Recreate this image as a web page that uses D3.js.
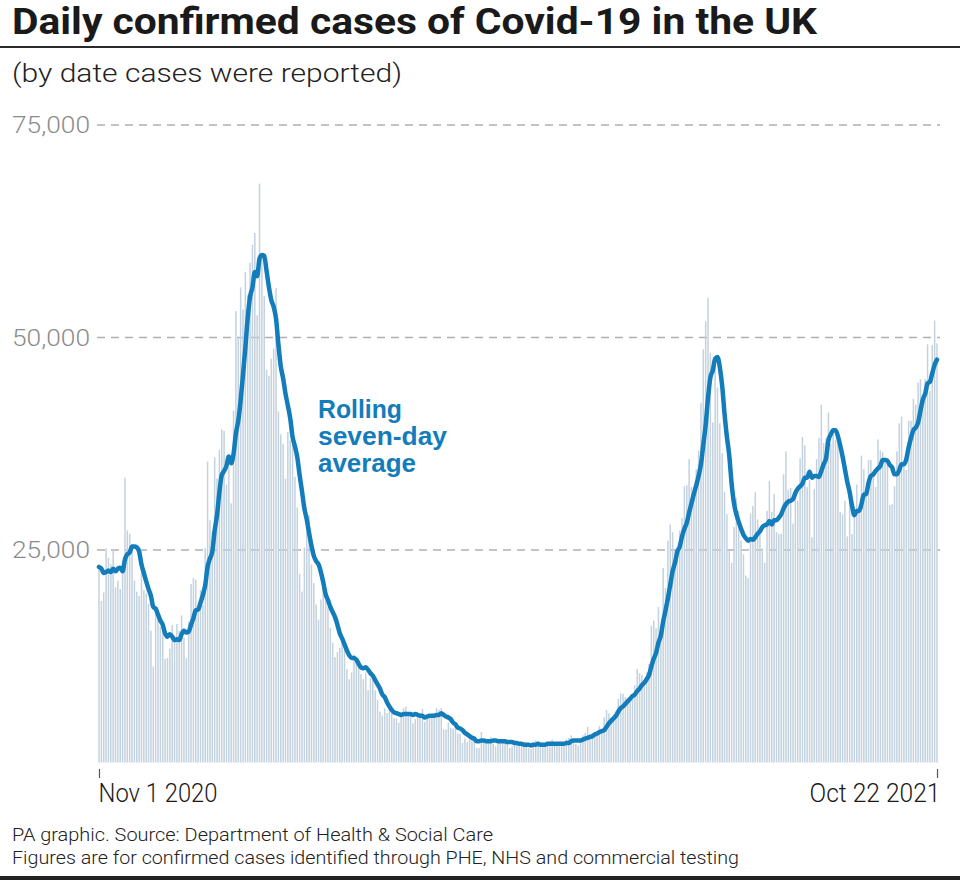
<!DOCTYPE html>
<html>
<head>
<meta charset="utf-8">
<script src="https://cdn.jsdelivr.net/npm/d3@7"></script>
<style>
  body { margin: 0; background: #fff; }
  svg { display: block; }
</style>
</head>
<body>
<div id="chart"></div>
<script>
// daily cases, thousands, Nov 1 2020 -> Oct 22 2021 (one value per day)
const dailyCases = [
  // Nov
  23.3, 19.0, 20.0, 25.2, 24.1, 23.3, 25.0, 20.6, 21.4, 20.4, 23.0, 33.5, 27.3, 26.9, 25.0, 21.4, 20.1, 19.6, 22.9, 20.3,
  19.9, 18.7, 15.5, 11.3, 18.2, 17.6, 16.0, 15.9, 12.2, 12.3,
  // Dec
  13.4, 16.2, 14.9, 16.3, 15.5, 17.3, 14.7, 12.3, 16.6, 21.0, 21.7, 21.5, 18.4, 20.3, 18.5, 25.2, 35.4, 28.5, 27.1, 35.9,
  33.4, 36.8, 39.2, 39.0, 32.7, 34.7, 30.5, 41.4, 53.1, 50.0, 55.9,
  // Jan
  53.3, 57.7, 55.0, 58.8, 60.9, 62.3, 52.6, 68.1, 59.9, 54.9, 46.2, 45.5, 47.5, 48.7, 55.8, 41.3, 38.6, 37.5, 33.4, 38.9,
  37.9, 40.3, 33.6, 30.0, 22.2, 20.1, 25.3, 28.7, 29.1, 23.3, 21.1,
  // Feb
  18.6, 16.8, 19.2, 20.6, 19.1, 18.3, 15.8, 14.1, 12.4, 13.0, 13.5, 15.1, 13.3, 11.0, 9.8, 10.6, 12.7, 12.1, 12.0, 10.4,
  9.8, 10.6, 8.5, 9.9, 10.0, 8.5, 7.4, 6.0,
  // Mar
  5.5, 6.4, 5.8, 6.6, 6.0, 5.2, 5.2, 4.7, 5.8, 6.4, 6.6, 5.9, 5.5, 4.6, 5.1, 5.3, 5.8, 6.3, 4.8, 5.6,
  5.3, 5.3, 5.4, 6.4, 6.2, 6.4, 3.9, 3.9, 4.7, 4.1, 4.0,
  // Apr
  4.5, 3.4, 3.4, 2.3, 2.8, 2.4, 2.8, 3.2, 2.6, 1.7, 1.7, 3.6, 2.5, 2.5, 2.7, 3.0, 2.2, 1.9, 2.5, 2.4,
  2.7, 2.7, 2.7, 1.7, 1.9, 2.1, 2.2, 2.1, 2.4, 2.4,
  // May
  1.9, 1.7, 1.6, 2.4, 2.6, 2.5, 2.0, 1.8, 1.9, 2.4, 2.3, 2.7, 2.2, 2.2, 1.9, 2.0, 2.4, 2.7, 2.9, 3.2,
  2.8, 2.2, 2.0, 2.5, 3.2, 3.5, 4.2, 3.4, 3.2, 3.2, 3.4,
  // Jun
  4.3, 4.0, 5.3, 6.2, 5.8, 5.3, 5.7, 6.0, 7.5, 8.1, 8.1, 7.7, 7.5, 7.7, 7.7, 9.1, 11.0, 10.5, 10.3, 9.3,
  10.6, 11.6, 16.1, 16.7, 15.8, 18.3, 14.9, 22.9, 20.5, 26.1,
  // Jul
  28.0, 27.1, 24.9, 24.2, 27.3, 28.8, 32.5, 32.6, 35.7, 32.4, 31.8, 34.5, 36.7, 42.3, 48.6, 51.9, 54.7, 48.2, 40.0, 46.6,
  44.1, 39.9, 36.4, 31.8, 29.2, 25.0, 23.5, 27.7, 31.1, 29.6, 26.1,
  // Aug
  24.5, 22.0, 21.7, 29.3, 30.2, 31.8, 28.6, 26.8, 25.2, 23.5, 29.6, 33.1, 29.5, 31.6, 27.1, 26.9, 26.9, 33.9, 36.6, 32.1,
  32.3, 28.1, 31.9, 30.8, 35.8, 38.3, 37.3, 32.4, 33.2, 26.5, 32.2,
  // Sep
  35.7, 38.2, 42.1, 37.6, 38.2, 41.2, 37.5, 39.0, 38.0, 37.6, 29.5, 29.2, 30.8, 26.6, 30.6, 26.9, 30.1, 32.7, 29.6, 36.1,
  34.5, 31.6, 35.6, 35.6, 34.2, 32.4, 38.0, 36.7, 36.5, 35.6,
  // Oct
  35.1, 30.3, 30.4, 32.5, 36.6, 39.9, 40.7, 35.4, 34.4, 40.2, 40.2, 42.8, 42.1, 44.7, 45.1, 43.4, 45.1, 49.2, 43.7, 49.1,
  52.0, 49.3
];

// rolling seven-day average, thousands, same days
const rollingAvg = [
  // Nov
  23.0, 22.8, 22.3, 22.4, 22.6, 22.4, 22.8, 22.5, 22.8, 22.9, 22.5, 23.9, 24.5, 24.7, 25.4, 25.4, 25.3, 24.8, 23.3, 22.3,
  21.3, 20.4, 19.6, 18.3, 18.1, 17.4, 16.7, 16.2, 15.2, 14.8,
  // Dec
  15.1, 14.8, 14.4, 14.5, 14.4, 15.1, 15.5, 15.3, 15.4, 16.2, 17.0, 17.9, 18.0, 18.8, 19.7, 20.9, 23.0, 24.0, 24.8, 27.3,
  29.1, 31.8, 33.8, 34.3, 34.9, 36.0, 35.2, 36.3, 38.7, 40.2, 42.6,
  // Jan
  45.6, 48.8, 52.3, 54.8, 55.9, 57.7, 57.2, 59.3, 59.7, 59.6, 57.8, 55.9, 54.4, 53.6, 52.2, 49.2, 46.6, 45.2, 43.4, 42.0,
  40.5, 38.3, 37.2, 35.9, 33.8, 31.9, 29.9, 28.6, 27.0, 25.5, 24.3,
  // Feb
  23.7, 23.3, 22.4, 21.2, 19.8, 19.1, 18.3, 17.7, 17.1, 16.2, 15.2, 14.6, 13.9, 13.2, 12.6, 12.3, 12.3, 12.1, 11.6, 11.2,
  11.1, 11.2, 10.9, 10.5, 10.2, 9.7, 9.2, 8.7,
  // Mar
  8.0, 7.7, 7.1, 6.6, 6.2, 5.9, 5.8, 5.7, 5.6, 5.7, 5.7, 5.7, 5.7, 5.6, 5.7, 5.6, 5.5, 5.5, 5.3, 5.4,
  5.5, 5.5, 5.5, 5.6, 5.6, 5.8, 5.6, 5.4, 5.3, 5.1, 4.7,
  // Apr
  4.5, 4.1, 4.0, 3.8, 3.5, 3.3, 3.1, 2.9, 2.8, 2.5, 2.5, 2.6, 2.6, 2.5, 2.5, 2.5, 2.6, 2.6, 2.5, 2.5,
  2.5, 2.5, 2.4, 2.4, 2.4, 2.3, 2.3, 2.2, 2.2, 2.1,
  // May
  2.1, 2.1, 2.0, 2.1, 2.1, 2.2, 2.1, 2.1, 2.1, 2.2, 2.2, 2.2, 2.2, 2.2, 2.2, 2.2, 2.2, 2.3, 2.3, 2.5,
  2.6, 2.6, 2.6, 2.6, 2.7, 2.8, 2.9, 3.0, 3.1, 3.3, 3.4,
  // Jun
  3.6, 3.7, 3.8, 4.2, 4.6, 4.9, 5.2, 5.5, 6.0, 6.4, 6.6, 6.9, 7.2, 7.5, 7.8, 8.0, 8.4, 8.7, 9.1, 9.4,
  9.8, 10.3, 11.3, 12.2, 12.9, 14.1, 14.9, 16.6, 17.9, 19.3,
  // Jul
  20.9, 22.5, 23.5, 24.8, 25.4, 26.6, 27.5, 28.2, 29.4, 30.5, 31.6, 32.6, 33.7, 35.1, 37.4, 39.7, 42.9, 45.3, 46.1, 47.5,
  47.7, 46.5, 44.3, 41.0, 38.3, 36.1, 32.8, 30.5, 29.2, 28.3, 27.5,
  // Aug
  26.8, 26.4, 26.1, 26.3, 26.2, 26.5, 26.9, 27.2, 27.7, 27.9, 28.0, 28.4, 28.0, 28.5, 28.5, 28.8, 29.2, 29.9, 30.4, 30.7,
  30.8, 31.0, 31.7, 32.2, 32.5, 32.8, 33.5, 33.5, 34.2, 33.5, 33.7,
  // Sep
  33.7, 33.6, 34.3, 35.1, 35.8, 37.9, 38.6, 39.1, 39.1, 38.4, 37.3, 36.0, 34.5, 33.0, 31.8, 30.2, 29.1, 29.6, 29.6, 30.4,
  31.5, 31.6, 32.9, 33.7, 33.9, 34.3, 34.6, 34.9, 35.6, 35.6,
  // Oct
  35.5, 35.0, 34.7, 33.9, 33.9, 34.4, 35.1, 35.1, 35.7, 37.1, 38.2, 39.1, 39.4, 40.0, 41.4, 42.7, 43.4, 44.6, 44.8, 45.8,
  46.8, 47.4
];

const startDate = new Date(2020, 10, 1);
const endDate = new Date(2021, 9, 22);
const yTicks = [25, 50, 75];
const yTickLabels = ["25,000", "50,000", "75,000"];
const xTickLabels = ["Nov 1 2020", "Oct 22 2021"];
const noteLines = ["Rolling", "seven-day", "average"];

const W = 960, H = 880;
const plot = { left: 99, right: 937, top: 125, bottom: 762.5 };
const sans = "Roboto, 'Liberation Sans', sans-serif";

const svg = d3.select("#chart").append("svg")
    .attr("width", W)
    .attr("height", H);

const days = dailyCases.map((v, i) => ({
    date: d3.timeDay.offset(startDate, i),
    cases: v,
    avg: rollingAvg[i]
}));

const x = d3.scaleTime()
    .domain([startDate, endDate])
    .range([plot.left, plot.right]);

const y = d3.scaleLinear()
    .domain([0, 75])
    .range([plot.bottom, plot.top]);

// title + rule
svg.append("text")
    .attr("x", 12).attr("y", 34)
    .attr("textLength", 805).attr("lengthAdjust", "spacingAndGlyphs")
    .style("font-family", sans)
    .style("font-weight", 700).style("font-size", "36px")
    .style("fill", "#1a1a1a")
    .text("Daily confirmed cases of Covid-19 in the UK");

svg.append("rect")
    .attr("x", 0).attr("y", 46).attr("width", W).attr("height", 2)
    .attr("fill", "#2a2a2a");

svg.append("text")
    .attr("x", 12).attr("y", 82)
    .attr("textLength", 390).attr("lengthAdjust", "spacingAndGlyphs")
    .style("font-family", sans)
    .style("font-weight", 300).style("font-size", "26px")
    .style("fill", "#222")
    .text("(by date cases were reported)");

// gridlines
svg.append("g")
    .selectAll("line")
    .data(yTicks)
    .join("line")
    .attr("x1", 97).attr("x2", 940)
    .attr("y1", d => y(d)).attr("y2", d => y(d))
    .attr("stroke", "#b0b0b0")
    .attr("stroke-width", 1.5)
    .attr("stroke-dasharray", "8,6");

svg.append("g")
    .selectAll("text")
    .data(yTicks)
    .join("text")
    .attr("x", 90)
    .attr("y", d => y(d) + 8)
    .attr("text-anchor", "end")
    .attr("textLength", 78).attr("lengthAdjust", "spacingAndGlyphs")
    .style("font-family", sans)
    .style("font-weight", 300).style("font-size", "23px")
    .style("fill", "#8c8c8c")
    .text((d, i) => yTickLabels[i]);

// daily bars
svg.append("g")
    .selectAll("rect")
    .data(days)
    .join("rect")
    .attr("x", d => x(d.date) - 0.75)
    .attr("width", 1.5)
    .attr("y", d => y(d.cases))
    .attr("height", d => y(0) - y(d.cases))
    .attr("fill", "#c3d2de");

// rolling average line
const line = d3.line()
    .x(d => x(d.date))
    .y(d => y(d.avg))
    .curve(d3.curveMonotoneX);

svg.append("path")
    .datum(days)
    .attr("d", line)
    .attr("fill", "none")
    .attr("stroke", "#137cba")
    .attr("stroke-width", 4.5)
    .attr("stroke-linejoin", "round")
    .attr("stroke-linecap", "round");

// annotation
svg.append("g")
    .selectAll("text")
    .data(noteLines)
    .join("text")
    .attr("x", 318)
    .attr("y", (d, i) => 418 + i * 27)
    .attr("textLength", (d, i) => [84, 129, 98][i])
    .attr("lengthAdjust", "spacingAndGlyphs")
    .style("font-family", "'Liberation Sans', Arial, sans-serif")
    .style("font-weight", 700).style("font-size", "25px")
    .style("fill", "#137cba")
    .text(d => d);

// x axis: start and end ticks only
const xAxis = svg.append("g")
    .attr("transform", `translate(0,769)`)
    .call(d3.axisBottom(x).tickValues([startDate, endDate]).tickSize(9).tickFormat((d, i) => xTickLabels[i]));
xAxis.select(".domain").remove();
xAxis.selectAll(".tick line").attr("stroke", "#555").attr("stroke-width", 1.2);
xAxis.selectAll(".tick text")
    .attr("y", 33).attr("dy", 0)
    .attr("text-anchor", (d, i) => i === 0 ? "start" : "end")
    .attr("dx", (d, i) => i === 0 ? -1 : 3)
    .attr("textLength", (d, i) => i === 0 ? 119 : 131)
    .attr("lengthAdjust", "spacingAndGlyphs")
    .style("font-family", sans)
    .style("font-weight", 300).style("font-size", "25px")
    .style("fill", "#1a1a1a");

// footer
const footer = ["PA graphic. Source: Department of Health & Social Care",
    "Figures are for confirmed cases identified through PHE, NHS and commercial testing"];
svg.append("g")
    .selectAll("text")
    .data(footer)
    .join("text")
    .attr("x", 12)
    .attr("y", (d, i) => 841 + i * 23)
    .attr("textLength", (d, i) => i === 0 ? 481 : 727)
    .attr("lengthAdjust", "spacingAndGlyphs")
    .style("font-family", sans)
    .style("font-weight", 300).style("font-size", "19px")
    .style("fill", "#222")
    .text(d => d);

svg.append("rect")
    .attr("x", 0).attr("y", 876).attr("width", W).attr("height", 4)
    .attr("fill", "#222");
</script>
</body>
</html>
